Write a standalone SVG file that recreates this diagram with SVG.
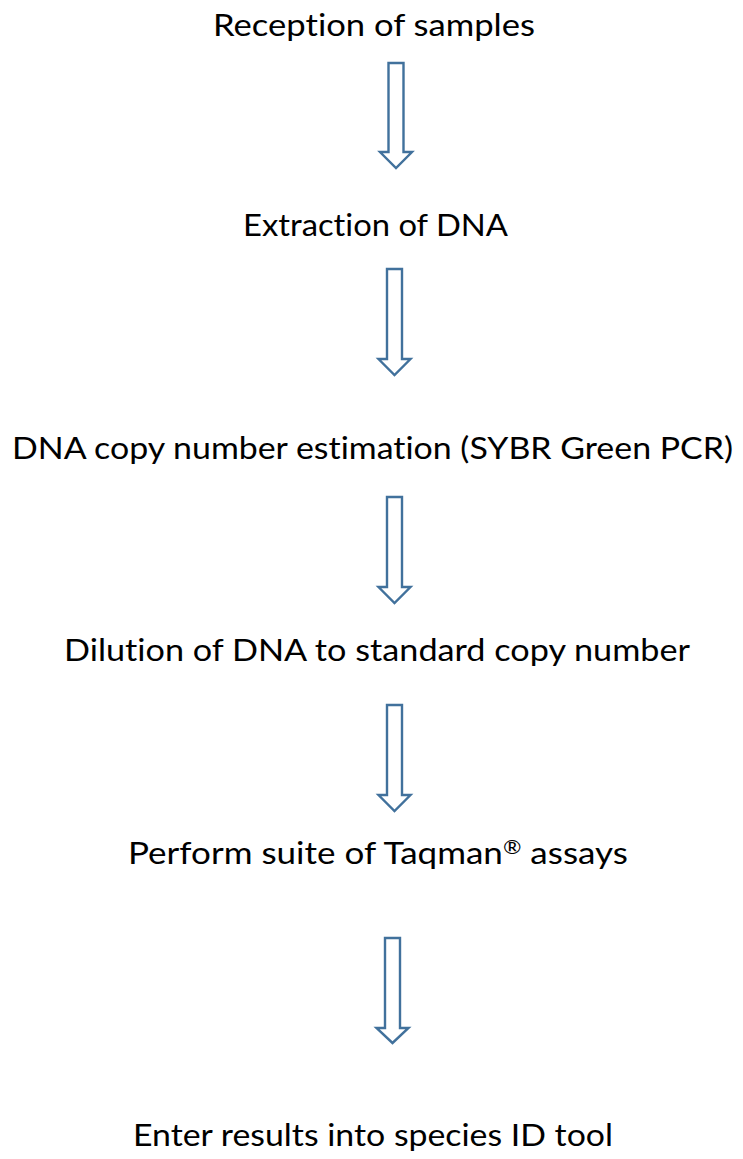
<svg xmlns="http://www.w3.org/2000/svg" width="743" height="1159" viewBox="0 0 743 1159">
<style>
.t{font-family:Lato,"Open Sans","Liberation Sans",sans-serif;font-size:31.5px;fill:#000;text-anchor:middle;font-variant-ligatures:none;font-feature-settings:"liga" 0}
.a{fill:#fff;stroke:#41719C;stroke-width:2.4;stroke-linejoin:miter}
</style>
<rect width="743" height="1159" fill="#fff"/>
<g id="n1"><text class="t" x="374" y="36" textLength="322" lengthAdjust="spacingAndGlyphs">Reception of samples</text></g>
<g id="n2"><text class="t" x="375.5" y="236" textLength="265" lengthAdjust="spacingAndGlyphs">Extraction of DNA</text></g>
<g id="n3"><text class="t" x="372.5" y="459" textLength="721" lengthAdjust="spacingAndGlyphs">DNA copy number estimation (SYBR Green PCR)</text></g>
<g id="n4"><text class="t" x="377" y="661" textLength="626" lengthAdjust="spacingAndGlyphs">Dilution of DNA to standard copy number</text></g>
<g id="n5"><text class="t" x="378" y="864" textLength="500" lengthAdjust="spacingAndGlyphs">Perform suite of Taqman<tspan font-size="20" dy="-10">®</tspan><tspan dy="10"> assays</tspan></text></g>
<g id="n6"><text class="t" x="373" y="1146" textLength="480" lengthAdjust="spacingAndGlyphs">Enter results into species ID tool</text></g>
<g id="connectors">
<path class="a" d="M388.5 63 H403.5 V152 H412 L396 168 L380 152 H388.5 Z"/>
<path class="a" d="M387 269 H402 V359 H410.5 L394.5 375 L378.5 359 H387 Z"/>
<path class="a" d="M387 497 H402 V587 H410.5 L394.5 603 L378.5 587 H387 Z"/>
<path class="a" d="M387 705 H402 V795 H410.5 L394.5 811 L378.5 795 H387 Z"/>
<path class="a" d="M385 938 H400 V1028 H408.5 L392.5 1043 L376.5 1028 H385 Z"/>
</g>
</svg>
